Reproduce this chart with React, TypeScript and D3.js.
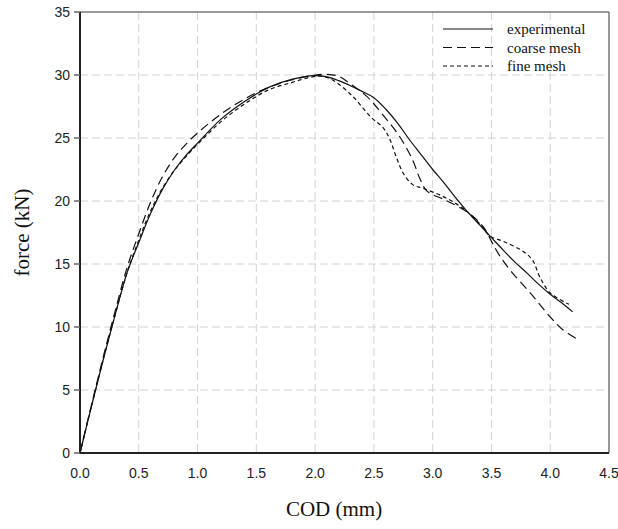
import React from "react";
import * as d3 from "d3";

const xTicks = [0, 0.5, 1.0, 1.5, 2.0, 2.5, 3.0, 3.5, 4.0, 4.5];
const yTicks = [0, 5, 10, 15, 20, 25, 30, 35];

const experimental: [number, number][] = [
  [0, 0], [0.1, 3.8], [0.2, 7.5], [0.3, 11.0], [0.4, 14.3], [0.5, 16.7], [0.6, 19.0],
  [0.7, 20.9], [0.8, 22.4], [0.9, 23.6], [1.0, 24.6], [1.2, 26.5], [1.4, 27.9],
  [1.6, 29.0], [1.8, 29.65], [2.0, 29.95], [2.1, 29.85], [2.2, 29.55], [2.3, 29.15],
  [2.4, 28.7], [2.5, 28.2], [2.6, 27.3], [2.7, 26.2], [2.8, 24.9], [2.9, 23.7],
  [3.0, 22.5], [3.1, 21.4], [3.2, 20.2], [3.3, 19.1], [3.4, 18.1], [3.5, 17.1],
  [3.6, 16.1], [3.7, 15.15], [3.8, 14.3], [3.9, 13.4], [4.0, 12.6], [4.1, 11.9], [4.19, 11.2],
];

const coarseMesh: [number, number][] = [
  [0, 0], [0.1, 3.9], [0.2, 7.7], [0.3, 11.3], [0.4, 14.7], [0.5, 17.4], [0.6, 19.9],
  [0.7, 21.9], [0.8, 23.4], [0.9, 24.5], [1.0, 25.4], [1.2, 26.9], [1.4, 28.1],
  [1.6, 29.0], [1.8, 29.6], [2.0, 30.0], [2.1, 30.05], [2.2, 29.9], [2.3, 29.3],
  [2.44, 28.3], [2.58, 26.8], [2.72, 25.1], [2.83, 23.25], [2.89, 21.8], [2.95, 20.8],
  [3.1, 20.1], [3.29, 19.15], [3.43, 17.96], [3.5, 16.8], [3.56, 15.8], [3.66, 14.5],
  [3.83, 12.7], [4.0, 10.8], [4.11, 9.76], [4.22, 9.1],
];

const fineMesh: [number, number][] = [
  [0, 0], [0.1, 3.8], [0.2, 7.5], [0.3, 11.0], [0.4, 14.3], [0.5, 16.9], [0.6, 19.2],
  [0.7, 21.0], [0.8, 22.4], [0.9, 23.5], [1.0, 24.5], [1.2, 26.3], [1.4, 27.7],
  [1.6, 28.8], [1.8, 29.4], [1.95, 29.8], [2.05, 29.9], [2.15, 29.6], [2.32, 28.3],
  [2.47, 26.7], [2.58, 25.8], [2.64, 24.8], [2.69, 23.5], [2.75, 22.2], [2.83, 21.3],
  [2.92, 21.0], [3.09, 20.35], [3.26, 19.4], [3.4, 18.2], [3.49, 17.2], [3.6, 16.8],
  [3.77, 16.0], [3.85, 15.3], [3.91, 14.0], [4.0, 12.7], [4.16, 11.8],
];

const seriesNames = ["experimental", "coarse mesh", "fine mesh"];
const seriesData = [experimental, coarseMesh, fineMesh];
const seriesDash = [null, "9,5", "4,3"];

const W = 618;
const H = 529;
const L = 80, R = 609, T = 12, B = 453;

export default function App() {
  const x = d3.scaleLinear().domain([0, 4.5]).range([L, R]);
  const y = d3.scaleLinear().domain([0, 35]).range([B, T]);
  const line = d3
    .line<[number, number]>()
    .x((d) => x(d[0]))
    .y((d) => y(d[1]))
    .curve(d3.curveCatmullRom.alpha(0.5));

  const sans = "'Liberation Sans', Arial, sans-serif";
  const serif = "'Liberation Serif', 'Times New Roman', serif";

  return (
    <svg
      width={W}
      height={H}
      style={{ position: "absolute", left: 0, top: 0, background: "#fff" }}
    >
      {/* grid */}
      {xTicks.filter((t) => t > 0 && t < 4.5).map((t) => (
        <line key={"gx" + t} x1={x(t)} x2={x(t)} y1={T} y2={B}
          stroke="#d4d4d4" strokeWidth={1} strokeDasharray="8,4" />
      ))}
      {yTicks.filter((t) => t > 0 && t < 35).map((t) => (
        <line key={"gy" + t} x1={L} x2={R} y1={y(t)} y2={y(t)}
          stroke="#d4d4d4" strokeWidth={1} strokeDasharray="8,4" />
      ))}

      {/* frame */}
      <line x1={L} x2={R} y1={T} y2={T} stroke="#777" strokeWidth={1.5} />
      <line x1={R} x2={R} y1={T} y2={B} stroke="#777" strokeWidth={1.5} />

      {/* series */}
      {seriesData.map((d, i) => (
        <path key={seriesNames[i]} d={line(d) || ""} fill="none" stroke="#111"
          strokeWidth={1.2} strokeDasharray={seriesDash[i] || undefined} />
      ))}

      {/* axes */}
      <line x1={L} x2={L} y1={T} y2={B + 1} stroke="#222" strokeWidth={2} />
      <line x1={L - 1} x2={R} y1={B} y2={B} stroke="#222" strokeWidth={2} />

      {yTicks.map((t) => (
        <g key={"yt" + t}>
          <line x1={L - 6} x2={L} y1={y(t)} y2={y(t)} stroke="#666" strokeWidth={1.5} />
          <text x={L - 10} y={y(t) + 5} textAnchor="end" fontFamily={sans}
            fontSize={14} fill="#222">{t}</text>
        </g>
      ))}
      {xTicks.map((t) => (
        <text key={"xt" + t} x={x(t)} y={B + 25} textAnchor="middle" fontFamily={sans}
          fontSize={14} fill="#222">{t.toFixed(1)}</text>
      ))}

      {/* axis titles */}
      <text x={334} y={516} textAnchor="middle" fontFamily={serif} fontSize={21} fill="#111">
        COD (mm)
      </text>
      <text transform={`translate(29, ${(T + B) / 2}) rotate(-90)`} textAnchor="middle"
        fontFamily={serif} fontSize={21} fill="#111">
        force (kN)
      </text>

      {/* legend */}
      {seriesNames.map((n, i) => (
        <g key={"lg" + n}>
          <line x1={443} x2={493} y1={29 + i * 18.5} y2={29 + i * 18.5} stroke="#111"
            strokeWidth={1.2} strokeDasharray={seriesDash[i] || undefined} />
          <text x={507} y={34 + i * 18.5} fontFamily={serif} fontSize={15} fill="#111">{n}</text>
        </g>
      ))}
    </svg>
  );
}
